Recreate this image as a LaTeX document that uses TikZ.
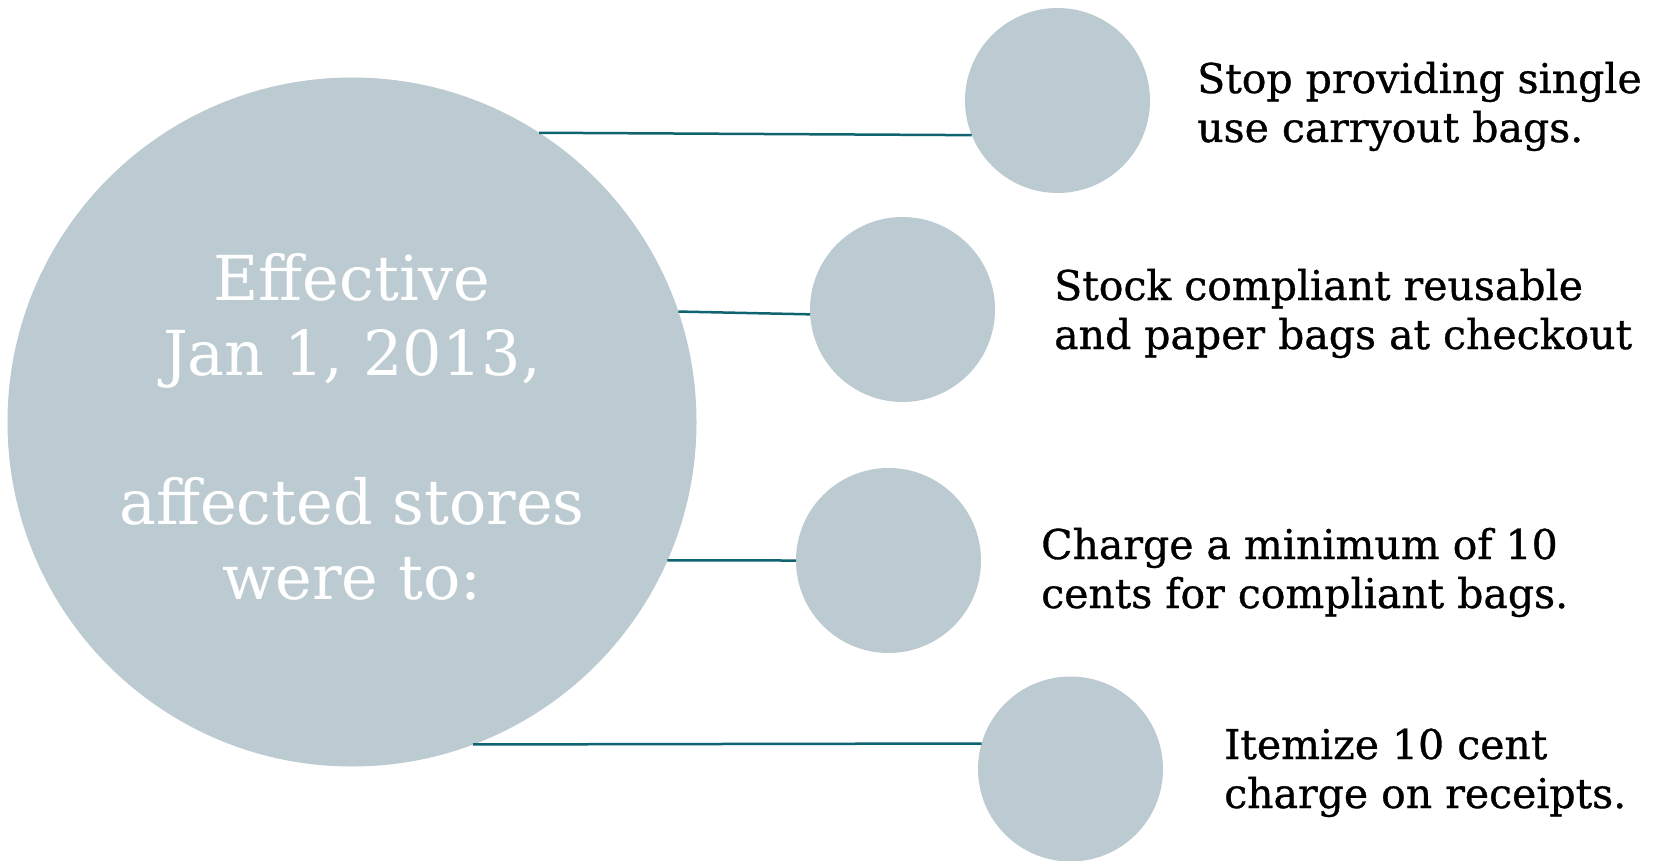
\documentclass[tikz,border=0pt]{standalone}
\usepackage{fontspec}
\setmainfont{DejaVu Serif}
\newfontfamily\itemfont{DejaVu Serif}[FakeBold=0.8]
\usetikzlibrary{positioning}

\definecolor{bubble}{HTML}{BCCBD1}
\definecolor{spokecol}{HTML}{0F6470}

\tikzset{
  hub/.style={circle, fill=bubble, inner sep=0, outer sep=0, minimum size=689pt},
  leaf/.style={circle, fill=bubble, inner sep=0, outer sep=0, minimum size=185pt},
  spoke/.style={draw=spokecol, line width=2.5pt},
  item/.style={anchor=base west, align=left, inner sep=0, font=\itemfont\fontsize{41}{49}\selectfont}
}

\begin{document}
\begin{tikzpicture}[x=1pt,y=-1pt]
	\useasboundingbox (0,0) rectangle (1657,861);
	% circles
	\node[hub] (hub) at (352,422) {};
	\node[leaf] (l1) at (1057.5,100.5) {};
	\node[leaf] (l2) at (902.5,309.5) {};
	\node[leaf] (l3) at (888.5,560.5) {};
	\node[leaf] (l4) at (1070.5,769) {};
	% spoke ends on the big circle
	\coordinate (h1) at ([shift={(57.1:344.5pt)}]hub.center);
	\coordinate (h2) at ([shift={(18.7:344.5pt)}]hub.center);
	\coordinate (h3) at ([shift={(-23.7:344.5pt)}]hub.center);
	\coordinate (h4) at ([shift={(-69.4:344.5pt)}]hub.center);
	% spokes
	\draw[spoke] (h1) -- (l1.202);
	\draw[spoke] (h2) -- (l2.183);
	\draw[spoke] (h3) -- (l3.180);
	\draw[spoke] (h4) -- (l4.164);
	% texts
	\node[white, anchor=base, align=center, inner sep=0, font=\fontsize{62}{74.8}\selectfont] (intro) at (352,599.5)
		{Effective\\Jan 1, 2013,\\\mbox{}\\affected stores\\were to:};
	\node[item] (t1) at (1197,142) {Stop providing single\\use carryout bags.};
	\node[item] (t2) at (1054,349) {Stock compliant reusable\\and paper bags at checkout};
	\node[item] (t3) at (1041,608) {Charge a minimum of 10\\cents for compliant bags.};
	\node[item] (t4) at (1224,808) {Itemize 10 cent\\charge on receipts.};
\end{tikzpicture}
\end{document}
